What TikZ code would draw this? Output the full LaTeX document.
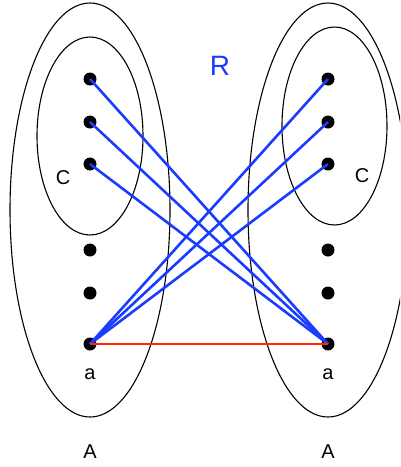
\documentclass[tikz,border=0pt]{standalone}
\usepackage{fontspec}
\setmainfont{Liberation Sans}
\usetikzlibrary{positioning}
\definecolor{RelBlue}{HTML}{1A3CFF}
\definecolor{RelRed}{HTML}{FF2A00}

\begin{document}
\begin{tikzpicture}[x=1pt, y=-1pt,
    elem/.style={circle, fill=black, inner sep=0pt, minimum size=13pt},
    setline/.style={draw=black, line width=1.1pt},
    rel/.style={RelBlue, line width=2.6pt},
    lbl/.style={font=\fontsize{20}{24}\selectfont}]

\useasboundingbox (0,0) rectangle (400,467);
\clip (0,0) rectangle (400,467);

% ── Sets ──────────────────────────────────────────────────────────────────────
\draw[setline] (90,210) ellipse [x radius=80, y radius=207];
\draw[setline] (90,136) ellipse [x radius=53, y radius=99];
\draw[setline] (328,210) ellipse [x radius=80, y radius=207];
\draw[setline] (334.5,126) ellipse [x radius=52.5, y radius=99];

% ── Elements ──────────────────────────────────────────────────────────────────
\foreach \y [count=\i] in {79,122,164,250,293,344}{
  \node[elem] (l\i) at (90,\y) {};
  \node[elem] (r\i) at (328,\y) {};
}

% ── Labels ────────────────────────────────────────────────────────────────────
\node[lbl] (cl) at (63,178) {C};
\node[lbl] (cr) at (362,176) {C};
\node[lbl, below=14pt of l6] (al) {a};
\node[lbl, below=14pt of r6] (ar) {a};
\node[lbl] (setl) at (90,452) {A};
\node[lbl] (setr) at (328,452) {A};
\node[font=\fontsize{28}{32}\selectfont, text=RelBlue] (rname) at (220,66) {R};

% ── Relation ──────────────────────────────────────────────────────────────────
\foreach \i in {1,2,3}{
  \draw[rel] (l\i.center) -- (r6.center);
  \draw[rel] (r\i.center) -- (l6.center);
}
\draw[RelRed, line width=2.6pt] (l6.center) -- (r6.center);

\end{tikzpicture}
\end{document}
